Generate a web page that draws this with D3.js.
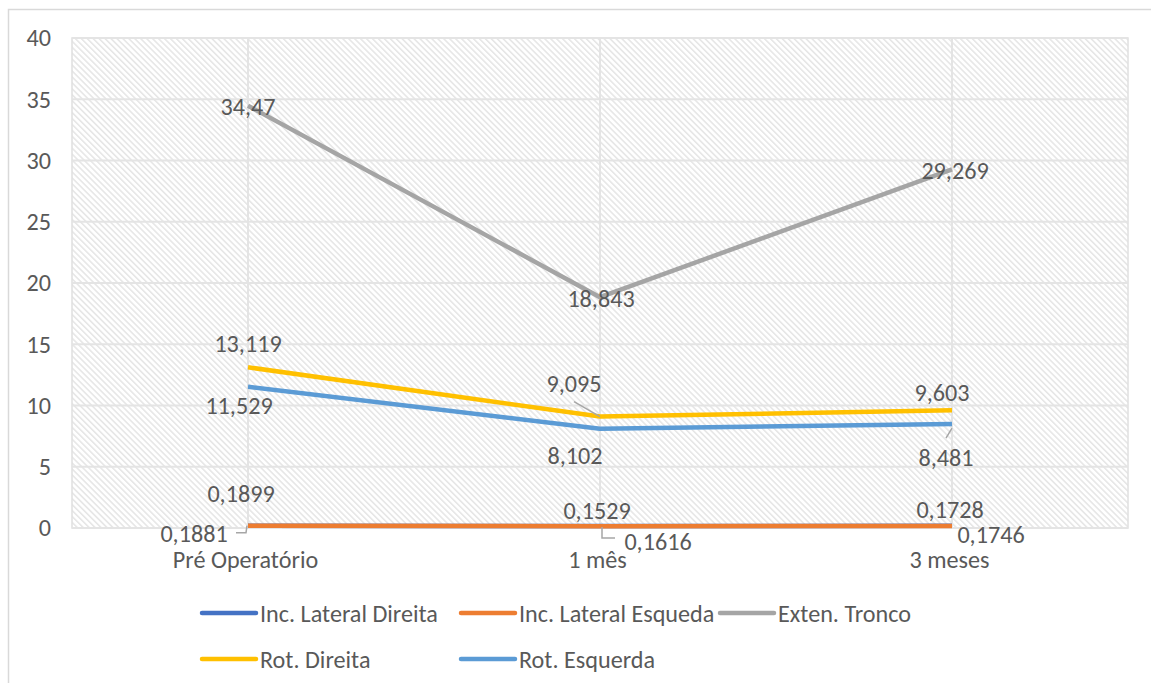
<!DOCTYPE html>
<html>
<head>
<meta charset="utf-8">
<script src="https://cdn.jsdelivr.net/npm/d3@7/dist/d3.min.js"></script>
<style>
  html, body { margin: 0; padding: 0; background: #fff; }
  svg { display: block; }
  text { font-family: Calibri, Carlito, Lato, "Open Sans", sans-serif; fill: #595959; }
</style>
</head>
<body>
<svg id="chart" width="1151" height="683"></svg>
<script>
// Categories (x axis)
const categories = ["Pré Operatório", "1 mês", "3 meses"];

// Series names, in drawing / legend order
const seriesNames = ["Inc. Lateral Direita", "Inc. Lateral Esqueda", "Exten. Tronco", "Rot. Direita", "Rot. Esquerda"];

// Series values per category
const incLateralDireita  = [0.1881, 0.1616, 0.1746];
const incLateralEsqueda  = [0.1899, 0.1529, 0.1728];
const extenTronco        = [34.47, 18.843, 29.269];
const rotDireita         = [13.119, 9.095, 9.603];
const rotEsquerda        = [11.529, 8.102, 8.481];

// Y axis ticks
const yTicks = [0, 5, 10, 15, 20, 25, 30, 35, 40];

const seriesValues = [incLateralDireita, incLateralEsqueda, extenTronco, rotDireita, rotEsquerda];
const colors = ["#4472C4", "#ED7D31", "#A5A5A5", "#FFC000", "#5B9BD5"];

// Data-label placement relative to each point: [dx, dy] of label centre,
// plus an optional leader line (offsets from the point)
const labelPlacement = [
  [{d: [-54, 8], leader: [[-12, 7], [-2, 7], [-1, 0]]}, {d: [58, 15], leader: [[2, 1], [2, 12], [15, 12]]}, {d: [39, 9]}],
  [{d: [-7, -32]}, {d: [-3, -16]}, {d: [-2, -16]}],
  [{d: [0, 1]}, {d: [1, 1]}, {d: [3, 1]}],
  [{d: [0, -24]}, {d: [-26, -33]}, {d: [-10, -18]}],
  [{d: [-9, 19]}, {d: [-25, 27]}, {d: [-6, 33], leader: [[-6, 14], [0, 4]]}]
];
labelPlacement[3][1].leader = [[-26, -15], [0, 0]];

const fmt = v => String(v).replace(".", ",");

const svg = d3.select("#chart");

// Font size chosen so the legend text runs to its usual width
const probe = svg.append("text").attr("font-size", 20).text("Inc. Lateral Direita");
const fs = 20 * 178 / probe.node().getComputedTextLength();
probe.remove();

// Outer chart frame
svg.append("rect")
  .attr("x", 8.5).attr("y", 9.5)
  .attr("width", 1160).attr("height", 700)
  .attr("fill", "none").attr("stroke", "#d9d9d9").attr("stroke-width", 1.5);

const plot = {left: 72, right: 1128, top: 38, bottom: 528};

const x = d3.scalePoint().domain(categories).range([plot.left, plot.right]).padding(0.5);
const y = d3.scaleLinear().domain([0, 40]).range([plot.bottom, plot.top]);

// Hatched plot-area fill (downward diagonal)
const defs = svg.append("defs");
const pat = defs.append("pattern")
  .attr("id", "hatch").attr("patternUnits", "userSpaceOnUse")
  .attr("width", 4.2).attr("height", 4.2)
  .attr("patternTransform", "rotate(-45)");
pat.append("rect").attr("width", 4.2).attr("height", 4.2).attr("fill", "#fff");
pat.append("line").attr("x1", 0.8).attr("y1", 0).attr("x2", 0.8).attr("y2", 4.2)
  .attr("stroke", "#dcdcdc").attr("stroke-width", 1.1);

svg.append("rect")
  .attr("x", plot.left).attr("y", plot.top)
  .attr("width", plot.right - plot.left).attr("height", plot.bottom - plot.top)
  .attr("fill", "url(#hatch)")
  .attr("stroke", "#e0e0e0").attr("stroke-width", 1.5);

// Horizontal gridlines
svg.append("g").selectAll("line").data(yTicks).join("line")
  .attr("x1", plot.left).attr("x2", plot.right)
  .attr("y1", d => y(d)).attr("y2", d => y(d))
  .attr("stroke", "#e4e4e4").attr("stroke-width", 2);

// Vertical gridlines at categories
svg.append("g").selectAll("line").data(categories).join("line")
  .attr("x1", d => x(d)).attr("x2", d => x(d))
  .attr("y1", plot.top).attr("y2", plot.bottom)
  .attr("stroke", "#e4e4e4").attr("stroke-width", 2);

// Y axis labels
const yAxis = d3.axisLeft(y).tickValues(yTicks).tickSize(0).tickPadding(21);
const gy = svg.append("g").attr("transform", `translate(${plot.left},0)`).call(yAxis);
gy.select(".domain").remove();

// X axis labels
const xAxis = d3.axisBottom(x).tickSize(0).tickPadding(23);
const gx = svg.append("g").attr("transform", `translate(0,${plot.bottom})`).call(xAxis);
gx.select(".domain").remove();
gx.selectAll(".tick text").attr("dx", -3);

svg.selectAll(".tick text")
  .attr("font-size", fs).attr("fill", "#595959").attr("font-family", null);

// Lines
const line = d3.line().x((d, i) => x(categories[i])).y(d => y(d));
const gl = svg.append("g");
seriesValues.forEach((vals, s) => {
  gl.append("path").datum(vals)
    .attr("d", line)
    .attr("fill", "none")
    .attr("stroke", colors[s])
    .attr("stroke-width", 4.5)
    .attr("stroke-linejoin", "round");
});

// Data labels and leader lines
const gLab = svg.append("g");
seriesValues.forEach((vals, s) => {
  vals.forEach((v, i) => {
    const px = x(categories[i]), py = y(v);
    const p = labelPlacement[s][i];
    if (p.leader) {
      gLab.append("polyline")
        .attr("points", p.leader.map(q => `${px + q[0]},${py + q[1]}`).join(" "))
        .attr("fill", "none").attr("stroke", "#a6a6a6").attr("stroke-width", 1.5);
    }
    gLab.append("text")
      .attr("x", px + p.d[0]).attr("y", py + p.d[1])
      .attr("text-anchor", "middle").attr("dominant-baseline", "central")
      .attr("font-size", fs)
      .text(fmt(v));
  });
});

// Legend
const legendItems = seriesNames.map((name, i) => ({name, color: colors[i]}));
const legendPos = [[202, 613], [461, 613], [720, 613], [202, 659], [461, 659]];
const gLeg = svg.append("g");
legendItems.forEach((it, i) => {
  const [lx, ly] = legendPos[i];
  gLeg.append("line").attr("x1", lx).attr("x2", lx + 54).attr("y1", ly).attr("y2", ly)
    .attr("stroke", it.color).attr("stroke-width", 4.5).attr("stroke-linecap", "round");
  gLeg.append("text").attr("x", lx + 58).attr("y", ly)
    .attr("dominant-baseline", "central").attr("font-size", fs)
    .text(it.name);
});
</script>
</body>
</html>
